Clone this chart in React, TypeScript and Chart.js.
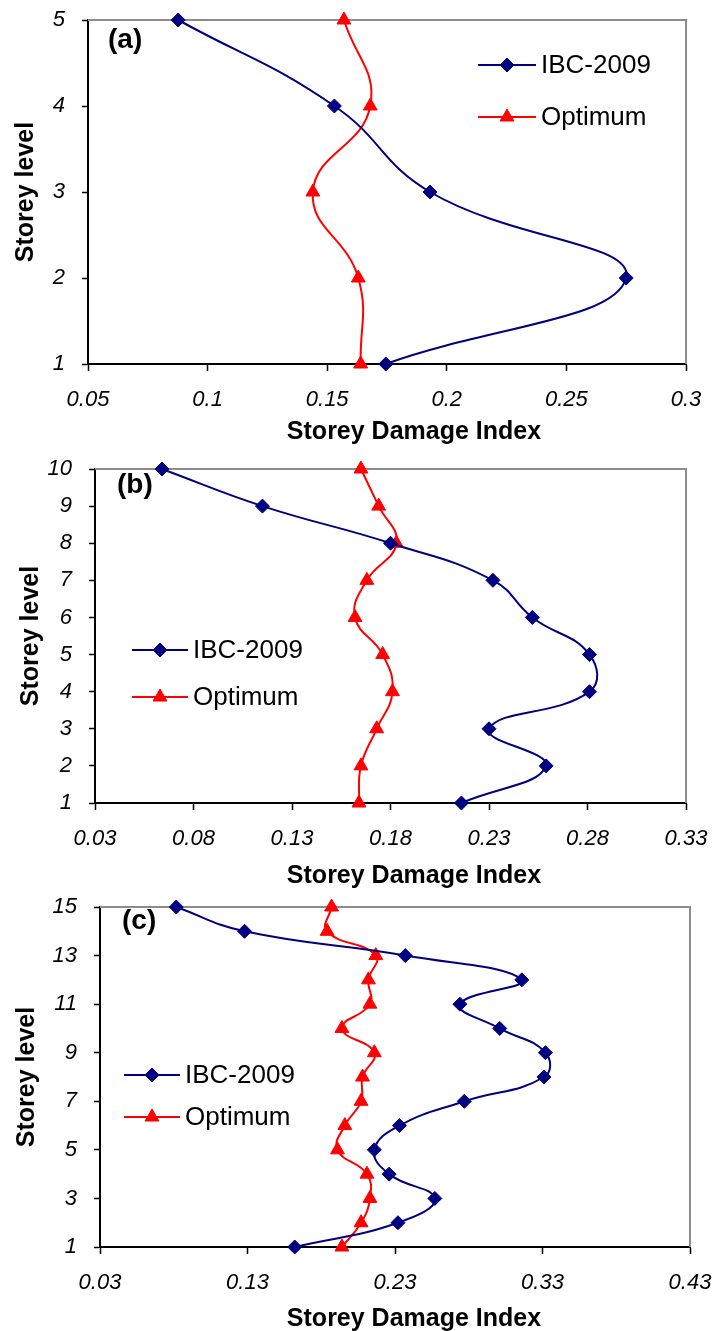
import React, { useEffect, useRef } from 'react';
import { Chart, registerables } from 'chart.js';
import { drawPoint } from 'chart.js/helpers';

Chart.register(...registerables);

const FONT = '"Liberation Sans", Arial, Helvetica, sans-serif';
const SERIES_NAMES = ['IBC-2009', 'Optimum'];
const SERIES_COLORS = ['#000080', '#FF0000'];
const X_TITLE = 'Storey Damage Index';
const Y_TITLE = 'Storey level';

// ---- Panel (a): 5 storeys ----
const levelsA = [1, 2, 3, 4, 5];
const ibcA = [0.1745, 0.275, 0.193, 0.153, 0.0877];
const optA = [0.164, 0.163, 0.144, 0.168, 0.157];
const xTicksA = [0.05, 0.1, 0.15, 0.2, 0.25, 0.3];
const xTickLabelsA = ['0.05', '0.1', '0.15', '0.2', '0.25', '0.3'];
const yTicksA = [1, 2, 3, 4, 5];

// ---- Panel (b): 10 storeys ----
const levelsB = [1, 2, 3, 4, 5, 6, 7, 8, 9, 10];
const ibcB = [0.216, 0.259, 0.23, 0.281, 0.281, 0.252, 0.232, 0.18, 0.115, 0.064];
const optB = [0.164, 0.165, 0.173, 0.181, 0.176, 0.162, 0.168, 0.183, 0.174, 0.165];
const xTicksB = [0.03, 0.08, 0.13, 0.18, 0.23, 0.28, 0.33];
const xTickLabelsB = ['0.03', '0.08', '0.13', '0.18', '0.23', '0.28', '0.33'];
const yTicksB = [1, 2, 3, 4, 5, 6, 7, 8, 9, 10];

// ---- Panel (c): 15 storeys ----
const levelsC = [1, 2, 3, 4, 5, 6, 7, 8, 9, 10, 11, 12, 13, 14, 15];
const ibcC = [0.162, 0.232, 0.257, 0.226, 0.216, 0.233, 0.277, 0.331, 0.332, 0.301, 0.274, 0.316, 0.237, 0.128, 0.0817];
const optC = [0.194, 0.207, 0.213, 0.211, 0.191, 0.196, 0.207, 0.208, 0.216, 0.194, 0.213, 0.212, 0.217, 0.184, 0.187];
const xTicksC = [0.03, 0.13, 0.23, 0.33, 0.43];
const xTickLabelsC = ['0.03', '0.13', '0.23', '0.33', '0.43'];
const yTicksC = [1, 3, 5, 7, 9, 11, 13, 15];

type Panel = {
  tag: string;
  levels: number[];
  ibc: number[];
  opt: number[];
  xTicks: number[];
  xTickLabels: string[];
  yTicks: number[];
  layout: {
    top: number;
    height: number;
    L: number;
    T: number;
    R: number;
    B: number;
    yTitleX: number;
    xTitleX: number;
    xTitleY: number;
    tagX: number;
    tagY: number;
    legX: number;
    legLen: number;
    legY: number[];
  };
};

const PANELS: Panel[] = [
  {
    tag: '(a)', levels: levelsA, ibc: ibcA, opt: optA, xTicks: xTicksA, xTickLabels: xTickLabelsA, yTicks: yTicksA,
    layout: { top: 0, height: 450, L: 88, T: 20, R: 686, B: 364, yTitleX: 26, xTitleX: 414, xTitleY: 432,
      tagX: 108, tagY: 40, legX: 478, legLen: 58, legY: [65, 117] },
  },
  {
    tag: '(b)', levels: levelsB, ibc: ibcB, opt: optB, xTicks: xTicksB, xTickLabels: xTickLabelsB, yTicks: yTicksB,
    layout: { top: 440, height: 455, L: 95, T: 29, R: 686, B: 363, yTitleX: 31, xTitleX: 414, xTitleY: 436,
      tagX: 117, tagY: 45, legX: 132, legLen: 56, legY: [210, 257] },
  },
  {
    tag: '(c)', levels: levelsC, ibc: ibcC, opt: optC, xTicks: xTicksC, xTickLabels: xTickLabelsC, yTicks: yTicksC,
    layout: { top: 885, height: 446, L: 100, T: 22, R: 690, B: 362, yTitleX: 27, xTitleX: 414, xTitleY: 434,
      tagX: 122, tagY: 36, legX: 124, legLen: 56, legY: [190, 232] },
  },
];

const decoPlugin = {
  id: 'panelDeco',
  beforeDatasetsDraw(chart: any) {
    const { ctx, chartArea: a } = chart;
    ctx.save();
    ctx.strokeStyle = '#8c8c8c';
    ctx.lineWidth = 2;
    ctx.beginPath();
    ctx.moveTo(a.left, a.top);
    ctx.lineTo(a.right, a.top);
    ctx.lineTo(a.right, a.bottom);
    ctx.stroke();
    ctx.restore();
  },
  afterDraw(chart: any, _args: any, opts: any) {
    const { ctx } = chart;
    ctx.save();
    // panel tag
    ctx.fillStyle = '#000';
    ctx.font = `bold 28px ${FONT}`;
    ctx.textAlign = 'left';
    ctx.textBaseline = 'middle';
    ctx.fillText(opts.tag, opts.tagX, opts.tagY);
    // x axis title
    ctx.font = `bold 25px ${FONT}`;
    ctx.textAlign = 'center';
    ctx.fillText(opts.xTitle, opts.xTitleX, opts.xTitleY);
    // legend
    chart.data.datasets.forEach((ds: any, i: number) => {
      const y = opts.legY[i];
      ctx.strokeStyle = ds.borderColor;
      ctx.fillStyle = ds.backgroundColor;
      ctx.lineWidth = 2;
      ctx.beginPath();
      ctx.moveTo(opts.legX, y);
      ctx.lineTo(opts.legX + opts.legLen, y);
      ctx.stroke();
      ctx.lineWidth = 1;
      drawPoint(ctx, { pointStyle: ds.pointStyle, radius: ds.pointRadius, rotation: 0, borderWidth: 1 }, opts.legX + opts.legLen / 2, y);
      ctx.fillStyle = '#000';
      ctx.font = `26px ${FONT}`;
      ctx.textAlign = 'left';
      ctx.textBaseline = 'middle';
      ctx.fillText(ds.label, opts.legX + opts.legLen + 5, y + 1);
    });
    ctx.restore();
  },
};

function buildConfig(p: Panel): any {
  const lay = p.layout;
  const tickFont = { family: FONT, size: 22, style: 'italic' as const };
  return {
    type: 'line',
    data: {
      datasets: [
        {
          label: SERIES_NAMES[0],
          data: p.levels.map((lv, i) => ({ x: p.ibc[i], y: lv })),
          borderColor: SERIES_COLORS[0],
          backgroundColor: SERIES_COLORS[0],
          borderWidth: 2,
          pointStyle: 'rectRot',
          pointRadius: 7,
          pointBorderWidth: 1,
          tension: 0.45,
          clip: false,
        },
        {
          label: SERIES_NAMES[1],
          data: p.levels.map((lv, i) => ({ x: p.opt[i], y: lv })),
          borderColor: SERIES_COLORS[1],
          backgroundColor: SERIES_COLORS[1],
          borderWidth: 2,
          pointStyle: 'triangle',
          pointRadius: 8,
          pointBorderWidth: 1,
          tension: 0.45,
          clip: false,
        },
      ],
    },
    options: {
      responsive: false,
      animation: false,
      devicePixelRatio: 1,
      layout: { padding: { top: lay.T, right: 712 - lay.R, bottom: 0, left: 0 } },
      plugins: {
        legend: { display: false },
        tooltip: { enabled: false },
        panelDeco: {
          tag: p.tag,
          tagX: lay.tagX,
          tagY: lay.tagY,
          xTitle: X_TITLE,
          xTitleX: lay.xTitleX,
          xTitleY: lay.xTitleY,
          legX: lay.legX,
          legLen: lay.legLen,
          legY: lay.legY,
        },
      },
      scales: {
        x: {
          type: 'linear',
          position: 'bottom',
          min: p.xTicks[0],
          max: p.xTicks[p.xTicks.length - 1],
          afterBuildTicks: (s: any) => { s.ticks = p.xTicks.map((v) => ({ value: v })); },
          afterFit: (s: any) => {
            s.height = lay.height - lay.B;
            s.paddingLeft = 0;
            s.paddingRight = 0;
          },
          ticks: {
            callback: (_v: any, i: number) => p.xTickLabels[i],
            font: tickFont,
            color: '#000',
            padding: 16,
            maxRotation: 0,
            autoSkip: false,
          },
          grid: { display: true, drawOnChartArea: false, drawTicks: true, tickLength: 7, tickColor: '#000', tickWidth: 1.5 },
          border: { display: true, color: '#000', width: 2 },
          title: { display: false },
        },
        y: {
          type: 'linear',
          position: 'left',
          min: p.yTicks[0],
          max: p.yTicks[p.yTicks.length - 1],
          afterBuildTicks: (s: any) => { s.ticks = p.yTicks.map((v) => ({ value: v })); },
          afterFit: (s: any) => {
            s.width = lay.L;
            s.paddingTop = 0;
            s.paddingBottom = 0;
          },
          ticks: {
            callback: (_v: any, i: number) => String(p.yTicks[i]),
            font: tickFont,
            color: '#000',
            padding: 17,
            autoSkip: false,
          },
          grid: { display: true, drawOnChartArea: false, drawTicks: true, tickLength: 6, tickColor: '#000', tickWidth: 1.5 },
          border: { display: true, color: '#000', width: 2 },
          title: {
            display: true,
            text: Y_TITLE,
            color: '#000',
            font: { family: FONT, size: 25, weight: 'bold', lineHeight: 1 },
            padding: { top: lay.yTitleX - 12.5, bottom: 0 },
          },
        },
      },
    },
    plugins: [decoPlugin],
  };
}

function PanelChart({ panel }: { panel: Panel }) {
  const ref = useRef<HTMLCanvasElement | null>(null);
  useEffect(() => {
    if (!ref.current) return;
    const chart = new Chart(ref.current, buildConfig(panel));
    return () => chart.destroy();
  }, [panel]);
  return (
    <canvas
      ref={ref}
      width={712}
      height={panel.layout.height}
      style={{ position: 'absolute', left: 0, top: panel.layout.top, width: 712, height: panel.layout.height }}
    />
  );
}

export default function App() {
  return (
    <div style={{ position: 'absolute', left: 0, top: 0, width: 712, height: 1331, background: '#fff', overflow: 'hidden' }}>
      {PANELS.map((p) => (
        <PanelChart key={p.tag} panel={p} />
      ))}
    </div>
  );
}
